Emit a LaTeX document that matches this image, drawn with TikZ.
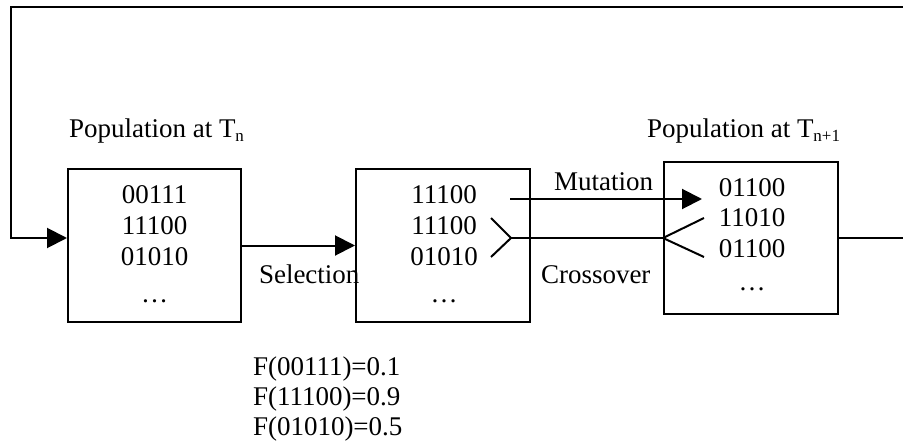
\documentclass[tikz,border=0pt]{standalone}
\usepackage{fontspec}
\setmainfont{Liberation Serif}
\usetikzlibrary{arrows.meta}
\newcommand{\sub}[1]{\raisebox{-5pt}{\fontsize{17}{17}\selectfont #1}}
\begin{document}
\begin{tikzpicture}[x=1pt,y=-1pt,
  line width=2pt,
  every node/.style={font=\fontsize{27}{31}\selectfont, inner sep=0pt},
  popbox/.style={draw, line width=2pt, rectangle},
  txt/.style={anchor=base},
  lbl/.style={anchor=base west},
  tip/.style={-{Triangle[length=20pt,width=20pt]}}]
\useasboundingbox (0,0) rectangle (903,444);

% population boxes
\node[popbox, minimum width=173pt, minimum height=153pt] (b1) at (154.5,245.5) {};
\node[popbox, minimum width=174pt, minimum height=153pt] (b2) at (443,245.5) {};
\node[popbox, minimum width=174pt, minimum height=152pt] (b3) at (751,238) {};

% box contents
\node[txt] (b1r1) at (154.5,203) {00111};
\node[txt] (b1r2) at (154.5,234) {11100};
\node[txt] (b1r3) at (154.5,265) {01010};
\node[txt] (b1r4) at (154.5,302) {\dots};

\node[txt] (b2r1) at (444,203) {11100};
\node[txt] (b2r2) at (444,234) {11100};
\node[txt] (b2r3) at (444,265) {01010};
\node[txt] (b2r4) at (444,302) {\dots};

\node[txt] (b3r1) at (752,196) {01100};
\node[txt] (b3r2) at (752,226) {11010};
\node[txt] (b3r3) at (752,257) {01100};
\node[txt] (b3r4) at (752,290) {\dots};

% headings and operation labels
\node[lbl] (h1) at (68,137) {Population at T\sub{n}};
\node[lbl] (h3) at (646,137) {Population at T\sub{n+1}};
\node[lbl] (sel) at (258,283) {Selection};
\node[lbl] (mut) at (553,190) {Mutation};
\node[lbl] (cro) at (540,283) {Crossover};

% fitness values
\node[lbl] (f1) at (252,375) {F(00111)=0.1};
\node[lbl] (f2) at (252,405) {F(11100)=0.9};
\node[lbl] (f3) at (252,435) {F(01010)=0.5};

% selection
\draw[tip] (b1) -- (b2);

% mutation
\coordinate (ms) at (510,199);
\coordinate (me) at (702,199);
\draw[tip] (ms) -- (me);

% crossover: two parents merge, two children split
\coordinate (pa) at (491,218);
\coordinate (pm) at (511,238);
\coordinate (pb) at (491,257);
\coordinate (ca) at (704,218);
\coordinate (cb) at (704,257);
\coordinate (cm) at (b3.west |- pm);
\draw (pa) -- (pm) -- (pb);
\draw (pm) -- (cm);
\draw (ca) -- (cm) -- (cb);

% feedback loop to the next generation
\coordinate (rt) at (906,238);
\coordinate (lt) at (11,7);
\draw[tip] (b3.east |- rt) -- (rt) |- (lt) |- (b1.west |- rt);
\end{tikzpicture}
\end{document}
